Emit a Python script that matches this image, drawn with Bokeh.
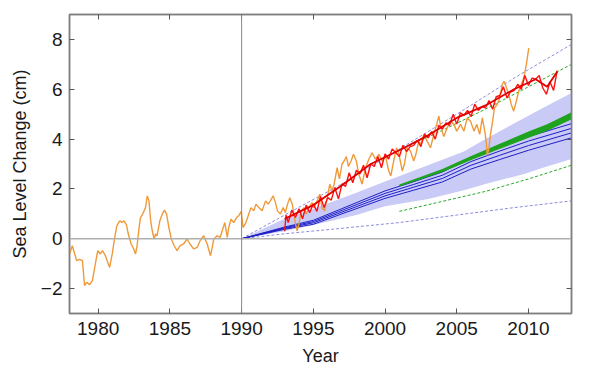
from bokeh.plotting import figure
from bokeh.models import Span, LinearAxis, FixedTicker, Range1d, CustomJSTickFormatter
from bokeh.embed import file_html
from bokeh.resources import INLINE

# ---------------- data ----------------
x_ticks = [1980, 1985, 1990, 1995, 2000, 2005, 2010]
y_ticks = [-2, 0, 2, 4, 6, 8]

orange_years = [1978.0, 1978.2, 1978.3, 1978.5, 1978.7, 1978.9, 1979.05, 1979.2, 1979.4, 1979.6, 1979.8, 1979.97,
                1980.15, 1980.3, 1980.5, 1980.67, 1980.8, 1980.98, 1981.15, 1981.3, 1981.5, 1981.65, 1981.8, 1981.97,
                1982.1, 1982.3, 1982.48, 1982.6, 1982.7, 1982.85, 1982.95, 1983.1, 1983.3, 1983.42, 1983.54, 1983.66,
                1983.77, 1983.9, 1984.0, 1984.1, 1984.3, 1984.47, 1984.62, 1984.77, 1984.93, 1985.1, 1985.3, 1985.5,
                1985.72, 1985.95, 1986.2, 1986.4, 1986.65, 1986.9, 1987.13, 1987.36, 1987.6, 1987.83, 1987.95, 1988.06,
                1988.3, 1988.5, 1988.65, 1988.83, 1989.0, 1989.1, 1989.27, 1989.45, 1989.65, 1989.8, 1989.97, 1990.1,
                1990.3, 1990.5, 1990.65, 1990.85, 1991.0, 1991.2, 1991.43, 1991.67, 1991.85, 1992.0, 1992.2, 1992.36,
                1992.5, 1992.7, 1992.9, 1993.05, 1993.2, 1993.36, 1993.53, 1993.76, 1993.87, 1994.0, 1994.15, 1994.34,
                1994.5, 1994.7, 1994.9, 1995.05, 1995.27, 1995.45, 1995.6, 1995.78, 1995.97, 1996.15, 1996.3, 1996.45,
                1996.66, 1996.82, 1997.0, 1997.15, 1997.3, 1997.45, 1997.63, 1997.8, 1998.0, 1998.17, 1998.4, 1998.64,
                1998.87, 1999.1, 1999.33, 1999.57, 1999.8, 2000.03, 2000.26, 2000.4, 2000.6, 2000.8, 2000.97, 2001.2,
                2001.35, 2001.54, 2001.77, 2002.0, 2002.15, 2002.35, 2002.5, 2002.7, 2002.93, 2003.17, 2003.4, 2003.6,
                2003.75, 2003.9, 2004.1, 2004.33, 2004.55, 2004.8, 2005.0, 2005.26, 2005.5, 2005.73, 2005.96, 2006.2,
                2006.4, 2006.6, 2006.78, 2006.95, 2007.05, 2007.12, 2007.25, 2007.35, 2007.5, 2007.63, 2007.82, 2008.0,
                2008.17, 2008.3, 2008.47, 2008.63, 2008.8, 2008.97, 2009.15, 2009.32, 2009.5, 2009.67, 2009.85, 2010.02]
orange_values = [-0.61, -0.28, -0.48, -0.88, -0.83, -0.88, -1.88, -1.75, -1.84, -1.68, -1.01, -0.48,
                 -0.61, -0.48, -0.68, -0.95, -1.15, -0.61, 0.05, 0.52, 0.72, 0.65, 0.72, 0.56,
                 0.19, -0.21, -0.41, -0.61, -0.35, 0.45, 0.85, 0.99, 1.25, 1.72, 1.52, 0.72,
                 0.32, -0.01, 0.19, 0.12, 0.72, 0.99, 1.15, 0.99, 0.45, -0.01, -0.28, -0.48,
                 -0.28, -0.21, -0.01, -0.21, -0.41, -0.35, -0.05, 0.12, -0.21, -0.68, -0.35, -0.01,
                 0.12, 0.05, 0.32, 0.65, 0.05, 0.45, 0.79, 0.65, 0.85, 0.92, 1.10, 0.45,
                 0.65, 0.99, 1.25, 1.12, 1.39, 1.25, 1.12, 1.52, 1.39, 1.52, 1.72, 1.45,
                 1.12, 0.99, 1.25, 1.05, 1.39, 1.65, 1.39, 0.59, 0.32, 0.59, 1.12, 1.25,
                 0.99, 1.25, 1.45, 1.25, 1.52, 1.79, 1.25, 1.12, 1.65, 2.19, 1.92, 2.19,
                 2.85, 2.40, 3.00, 3.12, 3.30, 2.90, 3.12, 3.39, 3.12, 2.59, 2.19, 2.85,
                 3.19, 3.45, 3.19, 3.39, 3.12, 3.32, 2.72, 2.52, 3.12, 3.65, 3.39, 2.72,
                 2.99, 3.65, 3.52, 3.12, 3.39, 3.92, 3.79, 4.19, 3.92, 3.65, 4.19, 4.59,
                 4.92, 4.45, 4.10, 4.45, 4.72, 4.59, 4.32, 4.59, 4.32, 4.85, 4.72, 4.32,
                 4.59, 4.19, 4.85, 4.32, 3.92, 3.35, 3.65, 4.19, 4.72, 5.25, 5.39, 5.65,
                 6.19, 6.32, 6.05, 5.79, 5.39, 5.12, 5.52, 5.92, 6.19, 6.45, 6.99, 7.65]

red_years = [1993.0, 1993.1, 1993.25, 1993.5, 1993.75, 1994.0, 1994.25, 1994.5, 1994.75, 1995.0, 1995.25, 1995.5,
             1995.75, 1996.0, 1996.25, 1996.5, 1996.75, 1997.0, 1997.25, 1997.5, 1997.75, 1998.0, 1998.25, 1998.5,
             1998.75, 1999.0, 1999.25, 1999.5, 1999.75, 2000.0, 2000.25, 2000.5, 2000.75, 2001.0, 2001.25, 2001.5,
             2001.75, 2002.0, 2002.25, 2002.5, 2002.75, 2003.0, 2003.25, 2003.5, 2003.75, 2004.0, 2004.25, 2004.5,
             2004.75, 2005.0, 2005.25, 2005.5, 2005.75, 2006.0, 2006.25, 2006.5, 2006.75, 2007.0, 2007.25, 2007.5,
             2007.75, 2008.0, 2008.25, 2008.5, 2008.75, 2009.0, 2009.25, 2009.5, 2009.75, 2010.0, 2010.25, 2010.5,
             2010.75, 2011.0, 2011.25, 2011.5, 2011.75, 2012.0]
red_values = [0.30, 0.95, 0.65, 1.15, 0.85, 1.20, 0.80, 1.35, 1.05, 1.40, 1.10, 1.70,
              1.25, 1.65, 1.55, 2.05, 1.60, 2.20, 2.10, 2.65, 2.25, 2.75, 2.60, 2.95,
              2.45, 3.00, 2.90, 3.30, 2.85, 3.40, 3.20, 3.60, 3.45, 3.30, 3.75, 3.50,
              3.70, 3.75, 3.95, 3.70, 4.20, 4.05, 4.30, 4.00, 4.55, 4.40, 4.65, 4.55,
              5.00, 4.60, 5.05, 4.95, 5.15, 4.90, 5.40, 5.15, 5.30, 5.25, 5.55, 5.20,
              5.70, 5.75, 6.10, 5.65, 5.90, 5.95, 6.20, 6.00, 6.55, 6.15, 6.45, 6.40,
              6.55, 6.05, 5.80, 6.30, 5.95, 6.75]

red_smooth_years = [1993.0, 1995.0, 1997.0, 1999.0, 2001.0, 2003.0, 2005.0, 2007.0, 2009.0, 2010.5, 2011.3, 2012.0]
red_smooth_values = [0.80, 1.35, 2.15, 3.00, 3.55, 4.15, 4.85, 5.35, 6.00, 6.40, 6.10, 6.70]

band_years = [1990, 1993, 1995, 1998, 2000, 2003, 2005.5, 2007, 2009.7, 2011, 2013]
band_lower = [0.0, 0.30, 0.55, 0.95, 1.30, 1.60, 1.95, 2.20, 2.60, 2.85, 3.20]
band_upper = [0.0, 0.80, 1.20, 1.85, 2.30, 2.95, 3.50, 4.00, 4.85, 5.25, 5.85]

blue_years = [1990, 1993, 1995, 1997, 2000, 2002, 2004, 2006, 2008, 2010, 2013]
blue_1 = [0.0, 0.38, 0.58, 1.00, 1.62, 1.95, 2.28, 2.80, 3.18, 3.55, 4.05]
blue_2 = [0.0, 0.41, 0.64, 1.07, 1.72, 2.07, 2.42, 2.95, 3.35, 3.74, 4.25]
blue_3 = [0.0, 0.44, 0.69, 1.14, 1.82, 2.18, 2.55, 3.10, 3.52, 3.92, 4.43]
blue_4 = [0.0, 0.47, 0.74, 1.21, 1.92, 2.29, 2.68, 3.25, 3.68, 4.10, 4.62]

blue_dash_years = [1990, 1993, 1997, 2001, 2005, 2009, 2013]
blue_dash_upper = [0.0, 0.95, 2.20, 3.60, 5.00, 6.45, 7.80]
blue_dash_lower = [0.0, 0.20, 0.42, 0.65, 0.95, 1.25, 1.52]

green_years = [2001, 2004, 2006, 2008, 2010, 2011.3, 2013]
green_lower = [2.12, 2.70, 3.18, 3.63, 4.08, 4.36, 4.82]
green_upper = [2.18, 2.80, 3.32, 3.81, 4.30, 4.60, 5.08]

green_dash_years = [2001, 2004, 2007, 2010, 2013]
green_dash_upper = [3.55, 4.35, 5.20, 6.10, 7.00]
green_dash_lower = [1.10, 1.50, 1.90, 2.40, 2.95]

# ---------------- figure ----------------
FONT = "Liberation Sans"
AX = "#808080"

p = figure(width=595, height=368, x_range=Range1d(1978, 2013), y_range=Range1d(-3, 9),
           output_backend="svg", toolbar_location=None,
           min_border_left=69, min_border_right=24, min_border_top=14, min_border_bottom=55)
p.xgrid.visible = False
p.ygrid.visible = False
p.outline_line_color = AX
p.outline_line_width = 1.5
p.background_fill_color = "white"
p.border_fill_color = "white"

for ax, ticks in ((p.xaxis[0], x_ticks), (p.yaxis[0], y_ticks)):
    ax.ticker = FixedTicker(ticks=ticks)
    ax.major_tick_in = 5
    ax.major_tick_out = 0
    ax.minor_tick_line_color = None
    ax.axis_line_color = AX
    ax.axis_line_width = 1.5
    ax.major_tick_line_color = "#555555"
    ax.major_label_text_font = FONT
    ax.major_label_text_font_size = "19px"
    ax.major_label_text_color = "#1a1a1a"
    ax.axis_label_text_font = FONT
    ax.axis_label_text_font_size = "18px"
    ax.axis_label_text_font_style = "normal"
    ax.axis_label_text_color = "#1a1a1a"

p.xaxis[0].axis_label = "Year"
p.xaxis[0].major_label_standoff = 8
p.xaxis[0].axis_label_standoff = 8
p.yaxis[0].axis_label = "Sea Level Change (cm)"
p.yaxis[0].major_label_standoff = 7
p.yaxis[0].axis_label_standoff = 8

blank = CustomJSTickFormatter(code="return ''")
top = LinearAxis(ticker=FixedTicker(ticks=x_ticks), formatter=blank,
                 major_label_standoff=0, major_tick_in=5, major_tick_out=0,
                 minor_tick_line_color=None, axis_line_color=AX, axis_line_width=1.5,
                 major_tick_line_color="#555555")
right = LinearAxis(ticker=FixedTicker(ticks=y_ticks), formatter=blank,
                   major_label_standoff=0, major_tick_in=5, major_tick_out=0,
                   minor_tick_line_color=None, axis_line_color=AX, axis_line_width=1.5,
                   major_tick_line_color="#555555")
p.add_layout(top, "above")
p.add_layout(right, "right")

# reference lines
p.add_layout(Span(location=0, dimension="width", line_color="#b0b0b0", line_width=1.5))
p.add_layout(Span(location=1990, dimension="height", line_color="#8a8a8a", line_width=1))

# blue model band and lines
p.varea(x=band_years, y1=band_lower, y2=band_upper, fill_color="#c9caf5", fill_alpha=1.0)
p.line(blue_dash_years, blue_dash_upper, line_color="#8c8ce0", line_width=1, line_dash="3 2")
p.line(blue_dash_years, blue_dash_lower, line_color="#8c8ce0", line_width=1, line_dash="3 2")
for series in (blue_1, blue_2, blue_3, blue_4):
    p.line(blue_years, series, line_color="#1f1fc8", line_width=1)

# green projections
p.varea(x=green_years, y1=green_lower, y2=green_upper, fill_color="#1fa31f", fill_alpha=1.0)
p.line(green_years, green_lower, line_color="#1fa31f", line_width=1.2)
p.line(green_dash_years, green_dash_upper, line_color="#2aa82a", line_width=1, line_dash="3 2")
p.line(green_dash_years, green_dash_lower, line_color="#2aa82a", line_width=1, line_dash="3 2")

# observations
p.line(orange_years, orange_values, line_color="#ef9a3a", line_width=1.4)
p.line(red_years, red_values, line_color="#ff1010", line_width=1.4)
p.line(red_smooth_years, red_smooth_values, line_color="#e00000", line_width=1.8)

open("out.html", "w").write(file_html(p, INLINE))
